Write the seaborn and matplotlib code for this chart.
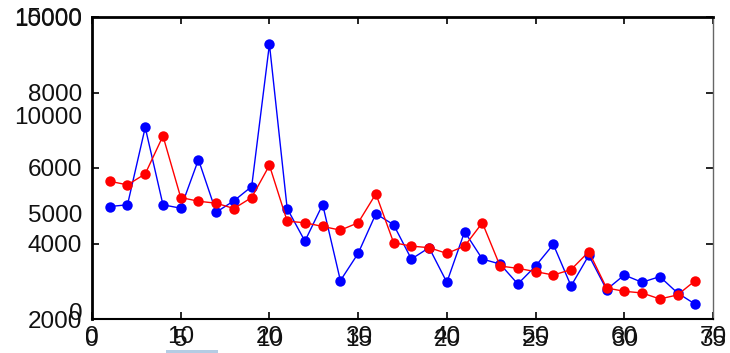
import matplotlib
matplotlib.use("Agg")
import matplotlib.pyplot as plt
import seaborn as sns
import pandas as pd
from matplotlib.patches import Rectangle

sns.set_theme(style="white")
plt.rcParams['font.family'] = ['Liberation Sans', 'DejaVu Sans']

# ---- data ----
steps = list(range(2, 70, 2))  # 34 points on the 0-70 axis
blue_vals = [4980, 5025, 7075, 5025, 4935, 6222, 4830, 5131, 5509, 9279,
             4927, 4063, 5033, 3017, 3738, 4787, 4497, 3588, 3889, 2972,
             4312, 3588, 3456, 2927, 3403, 3976, 2875, 3686, 2779, 3165,
             2972, 3123, 2690, 2391]
red_vals = [5649, 5553, 5844, 6848, 5218, 5120, 5067, 4927, 5218, 6071,
            4592, 4549, 4452, 4354, 4549, 5316, 4021, 3931, 3889, 3738,
            3931, 4549, 3403, 3342, 3255, 3165, 3308, 3783, 2822, 2734,
            2690, 2531, 2637, 3017]

# primary axes ticks
x1_ticks = [0, 10, 20, 30, 40, 50, 60, 70]
y1_ticks = [2000, 4000, 6000, 8000, 10000]
# overlaid secondary axes ticks
x2_ticks = [0, 5, 10, 15, 20, 25, 30, 35]
y2_ticks = [0, 5000, 10000, 15000]

df_blue = pd.DataFrame({"x": steps, "y": blue_vals})
df_red = pd.DataFrame({"x": steps, "y": red_vals})

fig = plt.figure(figsize=(7.3, 3.53), dpi=100)
pos = [92 / 730, 1 - 319 / 353, 621 / 730, 302 / 353]

ax2 = fig.add_axes(pos)
ax1 = fig.add_axes(pos)
ax1.set_facecolor("white")
ax2.set_zorder(ax1.get_zorder() + 1)
ax2.patch.set_visible(False)

sns.lineplot(data=df_blue, x="x", y="y", ax=ax1, color="#0000ff", marker="o",
             markersize=7.5, markeredgewidth=0, linewidth=1.0, legend=False)
sns.lineplot(data=df_red, x="x", y="y", ax=ax1, color="#ff0000", marker="o",
             markersize=7.5, markeredgewidth=0, linewidth=1.0, legend=False)

fs = 17.5
ax1.set_xlim(0, 70)
ax1.set_ylim(2000, 10000)
ax1.set_xticks(x1_ticks)
ax1.set_yticks(y1_ticks)
ax1.set_xticklabels([str(t) for t in x1_ticks], fontsize=fs)
ax1.set_yticklabels([str(t) for t in y1_ticks], fontsize=fs)
ax1.set_xlabel("")
ax1.set_ylabel("")
ax1.tick_params(axis="both", direction="in", length=5, width=1.2, color="black",
                top=True, right=True, bottom=True, left=True, labelcolor="#111111")
ax1.tick_params(axis="y", pad=7)
ax1.tick_params(axis="x", pad=5)
for side in ["left", "top"]:
    ax1.spines[side].set_linewidth(2.0)
    ax1.spines[side].set_color("black")
ax1.spines["bottom"].set_linewidth(1.5)
ax1.spines["bottom"].set_color("black")
ax1.spines["right"].set_linewidth(1.0)
ax1.spines["right"].set_color("#666666")

ax2.set_xlim(0, 35)
ax2.set_ylim(-356, 15000)
ax2.set_xticks(x2_ticks)
ax2.set_yticks(y2_ticks)
ax2.set_xticklabels([str(t) for t in x2_ticks], fontsize=fs)
ax2.set_yticklabels([str(t) for t in y2_ticks], fontsize=fs)
ax2.tick_params(axis="both", direction="in", length=0, labelcolor="#111111")
ax2.tick_params(axis="y", pad=7)
ax2.tick_params(axis="x", pad=7)
for s in ax2.spines.values():
    s.set_visible(False)
ax2.grid(False)
ax1.grid(False)

fig.add_artist(Rectangle((166 / 730, 0), 52 / 730, 3 / 353,
                         transform=fig.transFigure, color="#b4cce4", lw=0))

fig.savefig("out.png", dpi=100)
